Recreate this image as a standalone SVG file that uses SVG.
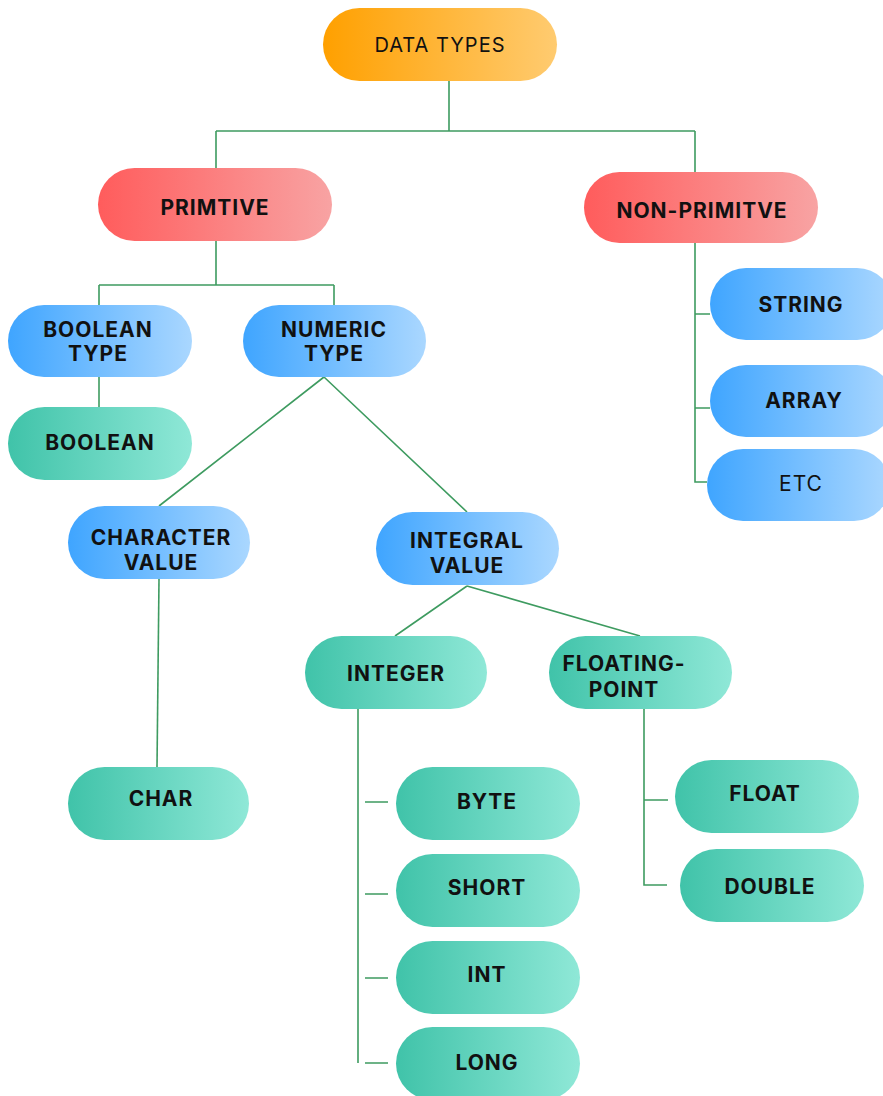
<svg xmlns="http://www.w3.org/2000/svg" width="883" height="1096" viewBox="0 0 883 1096">
<defs>
<linearGradient id="gO" x1="0" y1="0" x2="1" y2="0"><stop offset="0" stop-color="#FFA000"/><stop offset="1" stop-color="#FFCB70"/></linearGradient>
<linearGradient id="gR" x1="0" y1="0" x2="1" y2="0"><stop offset="0" stop-color="#FF5C5C"/><stop offset="1" stop-color="#F8A3A3"/></linearGradient>
<linearGradient id="gB" x1="0" y1="0" x2="1" y2="0"><stop offset="0" stop-color="#3FA5FF"/><stop offset="1" stop-color="#AAD7FF"/></linearGradient>
<linearGradient id="gT" x1="0" y1="0" x2="1" y2="0"><stop offset="0" stop-color="#40C3A9"/><stop offset="1" stop-color="#8FE8D7"/></linearGradient>
</defs>
<style>
.o{fill:url(#gO)}.r{fill:url(#gR)}.b{fill:url(#gB)}.t{fill:url(#gT)}
text{font-family:Inter,"Liberation Sans",sans-serif;font-size:21px;font-weight:700;fill:#111;text-anchor:middle;letter-spacing:1px}
.n{font-weight:400}
.c path{fill:none;stroke:#3E9B60;stroke-width:1.6}
</style>
<rect width="883" height="1096" fill="#fff"/>
<g class="c" id="connectors">
<path d="M449 81V131M216 131H695M216 131V168M695 131V172"/>
<path d="M216 241V285M99 285H334M99 285V305M334 285V305"/>
<path d="M99 377V407"/>
<path d="M324 377L159 506M324 377L467 512"/>
<path d="M159 579L157 767"/>
<path d="M467 586L395 636M467 586L640 636"/>
<path d="M358 709V1063M365 802H388M365 894H388M365 978H388M365 1063H388"/>
<path d="M644 709V885H667M644 800H668"/>
<path d="M695 243V482H707M695 314H710M695 408H710"/>
</g>
<g id="data-types"><rect class="o" x="323" y="8" width="234" height="73" rx="36.5"/><text class="n" x="440" y="52" style="font-size:20px">DATA TYPES</text></g>
<g id="primitive"><rect class="r" x="98" y="168" width="234" height="73" rx="36.5"/><text x="215" y="215">PRIMTIVE</text></g>
<g id="non-primitive"><rect class="r" x="584" y="172" width="234" height="71" rx="35.5"/><text x="702" y="218">NON-PRIMITVE</text></g>
<g id="string"><rect class="b" x="710" y="268" width="183" height="72" rx="36"/><text x="801" y="312">STRING</text></g>
<g id="array"><rect class="b" x="710" y="365" width="183" height="72" rx="36"/><text x="804" y="408">ARRAY</text></g>
<g id="etc"><rect class="b" x="707" y="449" width="183" height="72" rx="36"/><text class="n" x="801" y="491">ETC</text></g>
<g id="boolean-type"><rect class="b" x="8" y="305" width="184" height="72" rx="36"/><text x="98" y="337">BOOLEAN</text><text x="98" y="361">TYPE</text></g>
<g id="numeric-type"><rect class="b" x="243" y="305" width="183" height="72" rx="36"/><text x="334" y="337">NUMERIC</text><text x="334" y="361">TYPE</text></g>
<g id="boolean"><rect class="t" x="8" y="407" width="184" height="73" rx="36.5"/><text x="100" y="450">BOOLEAN</text></g>
<g id="character-value"><rect class="b" x="68" y="506" width="182" height="73" rx="36.5"/><text x="161" y="545">CHARACTER</text><text x="161" y="570">VALUE</text></g>
<g id="integral-value"><rect class="b" x="376" y="512" width="183" height="73" rx="36.5"/><text x="467" y="548">INTEGRAL</text><text x="467" y="573">VALUE</text></g>
<g id="char"><rect class="t" x="68" y="767" width="181" height="73" rx="36.5"/><text x="161" y="806">CHAR</text></g>
<g id="integer"><rect class="t" x="305" y="636" width="182" height="73" rx="36.5"/><text x="396" y="681">INTEGER</text></g>
<g id="floating-point"><rect class="t" x="549" y="636" width="183" height="73" rx="36.5"/><text x="624" y="671">FLOATING-</text><text x="624" y="697">POINT</text></g>
<g id="byte"><rect class="t" x="396" y="767" width="184" height="73" rx="36.5"/><text x="487" y="809">BYTE</text></g>
<g id="short"><rect class="t" x="396" y="854" width="184" height="73" rx="36.5"/><text x="487" y="895">SHORT</text></g>
<g id="int"><rect class="t" x="396" y="941" width="184" height="73" rx="36.5"/><text x="487" y="982">INT</text></g>
<g id="long"><rect class="t" x="396" y="1027" width="184" height="73" rx="36.5"/><text x="487" y="1070">LONG</text></g>
<g id="float"><rect class="t" x="675" y="760" width="184" height="73" rx="36.5"/><text x="765" y="801">FLOAT</text></g>
<g id="double"><rect class="t" x="680" y="849" width="184" height="73" rx="36.5"/><text x="770" y="894">DOUBLE</text></g>
</svg>
